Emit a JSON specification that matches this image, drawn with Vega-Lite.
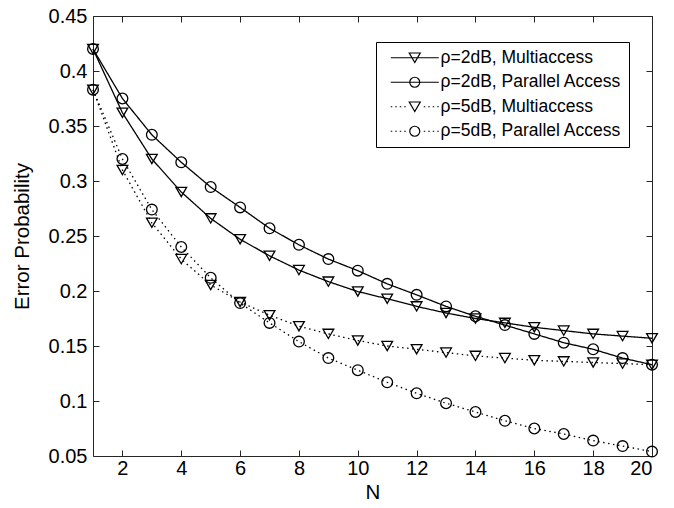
{
  "$schema": "https://vega.github.io/schema/vega-lite/v6.json",
  "width": 559,
  "height": 440,
  "autosize": {"type": "none"},
  "padding": {"left": 93, "top": 16, "right": 22, "bottom": 52},
  "background": "white",
  "config": {
    "view": {"stroke": null},
    "font": "Liberation Sans",
    "axis": {
      "labelFont": "Liberation Sans", "labelFontSize": 20, "labelColor": "black",
      "titleFont": "Liberation Sans", "titleFontSize": 20.5, "titleFontWeight": "normal", "titleColor": "black",
      "domainColor": "#262626", "tickColor": "#262626", "grid": false, "tickSize": -6
    }
  },
  "data": {"values": [
    {"s": "ρ=2dB, Multiaccess", "N": 1, "p": 0.420},
    {"s": "ρ=2dB, Multiaccess", "N": 2, "p": 0.362},
    {"s": "ρ=2dB, Multiaccess", "N": 3, "p": 0.320},
    {"s": "ρ=2dB, Multiaccess", "N": 4, "p": 0.290},
    {"s": "ρ=2dB, Multiaccess", "N": 5, "p": 0.266},
    {"s": "ρ=2dB, Multiaccess", "N": 6, "p": 0.247},
    {"s": "ρ=2dB, Multiaccess", "N": 7, "p": 0.232},
    {"s": "ρ=2dB, Multiaccess", "N": 8, "p": 0.219},
    {"s": "ρ=2dB, Multiaccess", "N": 9, "p": 0.2085},
    {"s": "ρ=2dB, Multiaccess", "N": 10, "p": 0.1995},
    {"s": "ρ=2dB, Multiaccess", "N": 11, "p": 0.193},
    {"s": "ρ=2dB, Multiaccess", "N": 12, "p": 0.186},
    {"s": "ρ=2dB, Multiaccess", "N": 13, "p": 0.180},
    {"s": "ρ=2dB, Multiaccess", "N": 14, "p": 0.175},
    {"s": "ρ=2dB, Multiaccess", "N": 15, "p": 0.171},
    {"s": "ρ=2dB, Multiaccess", "N": 16, "p": 0.167},
    {"s": "ρ=2dB, Multiaccess", "N": 17, "p": 0.164},
    {"s": "ρ=2dB, Multiaccess", "N": 18, "p": 0.161},
    {"s": "ρ=2dB, Multiaccess", "N": 19, "p": 0.159},
    {"s": "ρ=2dB, Multiaccess", "N": 20, "p": 0.157},
    {"s": "ρ=2dB, Parallel Access", "N": 1, "p": 0.420},
    {"s": "ρ=2dB, Parallel Access", "N": 2, "p": 0.375},
    {"s": "ρ=2dB, Parallel Access", "N": 3, "p": 0.342},
    {"s": "ρ=2dB, Parallel Access", "N": 4, "p": 0.317},
    {"s": "ρ=2dB, Parallel Access", "N": 5, "p": 0.2945},
    {"s": "ρ=2dB, Parallel Access", "N": 6, "p": 0.276},
    {"s": "ρ=2dB, Parallel Access", "N": 7, "p": 0.257},
    {"s": "ρ=2dB, Parallel Access", "N": 8, "p": 0.242},
    {"s": "ρ=2dB, Parallel Access", "N": 9, "p": 0.229},
    {"s": "ρ=2dB, Parallel Access", "N": 10, "p": 0.2185},
    {"s": "ρ=2dB, Parallel Access", "N": 11, "p": 0.2065},
    {"s": "ρ=2dB, Parallel Access", "N": 12, "p": 0.1965},
    {"s": "ρ=2dB, Parallel Access", "N": 13, "p": 0.186},
    {"s": "ρ=2dB, Parallel Access", "N": 14, "p": 0.177},
    {"s": "ρ=2dB, Parallel Access", "N": 15, "p": 0.169},
    {"s": "ρ=2dB, Parallel Access", "N": 16, "p": 0.161},
    {"s": "ρ=2dB, Parallel Access", "N": 17, "p": 0.153},
    {"s": "ρ=2dB, Parallel Access", "N": 18, "p": 0.147},
    {"s": "ρ=2dB, Parallel Access", "N": 19, "p": 0.139},
    {"s": "ρ=2dB, Parallel Access", "N": 20, "p": 0.133},
    {"s": "ρ=5dB, Multiaccess", "N": 1, "p": 0.383},
    {"s": "ρ=5dB, Multiaccess", "N": 2, "p": 0.310},
    {"s": "ρ=5dB, Multiaccess", "N": 3, "p": 0.262},
    {"s": "ρ=5dB, Multiaccess", "N": 4, "p": 0.229},
    {"s": "ρ=5dB, Multiaccess", "N": 5, "p": 0.2055},
    {"s": "ρ=5dB, Multiaccess", "N": 6, "p": 0.190},
    {"s": "ρ=5dB, Multiaccess", "N": 7, "p": 0.178},
    {"s": "ρ=5dB, Multiaccess", "N": 8, "p": 0.168},
    {"s": "ρ=5dB, Multiaccess", "N": 9, "p": 0.161},
    {"s": "ρ=5dB, Multiaccess", "N": 10, "p": 0.155},
    {"s": "ρ=5dB, Multiaccess", "N": 11, "p": 0.150},
    {"s": "ρ=5dB, Multiaccess", "N": 12, "p": 0.147},
    {"s": "ρ=5dB, Multiaccess", "N": 13, "p": 0.144},
    {"s": "ρ=5dB, Multiaccess", "N": 14, "p": 0.141},
    {"s": "ρ=5dB, Multiaccess", "N": 15, "p": 0.139},
    {"s": "ρ=5dB, Multiaccess", "N": 16, "p": 0.137},
    {"s": "ρ=5dB, Multiaccess", "N": 17, "p": 0.136},
    {"s": "ρ=5dB, Multiaccess", "N": 18, "p": 0.135},
    {"s": "ρ=5dB, Multiaccess", "N": 19, "p": 0.134},
    {"s": "ρ=5dB, Multiaccess", "N": 20, "p": 0.133},
    {"s": "ρ=5dB, Parallel Access", "N": 1, "p": 0.383},
    {"s": "ρ=5dB, Parallel Access", "N": 2, "p": 0.320},
    {"s": "ρ=5dB, Parallel Access", "N": 3, "p": 0.274},
    {"s": "ρ=5dB, Parallel Access", "N": 4, "p": 0.240},
    {"s": "ρ=5dB, Parallel Access", "N": 5, "p": 0.212},
    {"s": "ρ=5dB, Parallel Access", "N": 6, "p": 0.189},
    {"s": "ρ=5dB, Parallel Access", "N": 7, "p": 0.171},
    {"s": "ρ=5dB, Parallel Access", "N": 8, "p": 0.154},
    {"s": "ρ=5dB, Parallel Access", "N": 9, "p": 0.139},
    {"s": "ρ=5dB, Parallel Access", "N": 10, "p": 0.128},
    {"s": "ρ=5dB, Parallel Access", "N": 11, "p": 0.117},
    {"s": "ρ=5dB, Parallel Access", "N": 12, "p": 0.107},
    {"s": "ρ=5dB, Parallel Access", "N": 13, "p": 0.098},
    {"s": "ρ=5dB, Parallel Access", "N": 14, "p": 0.090},
    {"s": "ρ=5dB, Parallel Access", "N": 15, "p": 0.082},
    {"s": "ρ=5dB, Parallel Access", "N": 16, "p": 0.075},
    {"s": "ρ=5dB, Parallel Access", "N": 17, "p": 0.070},
    {"s": "ρ=5dB, Parallel Access", "N": 18, "p": 0.064},
    {"s": "ρ=5dB, Parallel Access", "N": 19, "p": 0.059},
    {"s": "ρ=5dB, Parallel Access", "N": 20, "p": 0.054}
  ]},
  "layer": [
    {
      "mark": {"type": "line", "color": "black", "strokeWidth": 1.3},
      "encoding": {
        "x": {"field": "N", "type": "quantitative", "scale": {"domain": [1, 20], "nice": false, "zero": false},
              "axis": {"orient": "bottom", "values": [2, 4, 6, 8, 10, 12, 14, 16, 18, 20], "title": "N", "titlePadding": 4, "labelPadding": 8}},
        "y": {"field": "p", "type": "quantitative", "scale": {"domain": [0.05, 0.45], "nice": false, "zero": false},
              "axis": {"orient": "left", "values": [0.05, 0.1, 0.15, 0.2, 0.25, 0.3, 0.35, 0.4, 0.45], "format": "~g", "title": "Error Probability", "titlePadding": 16, "labelPadding": 12}},
        "strokeDash": {"field": "s", "type": "nominal",
          "scale": {"domain": ["ρ=2dB, Multiaccess", "ρ=2dB, Parallel Access", "ρ=5dB, Multiaccess", "ρ=5dB, Parallel Access"],
                    "range": [[1, 0], [1, 0], [1.5, 3.5], [1.5, 3.5]]},
          "legend": null}
      }
    },
    {
      "mark": {"type": "point", "filled": false, "color": "black", "strokeWidth": 1.3, "size": 115, "opacity": 1},
      "encoding": {
        "x": {"field": "N", "type": "quantitative",
              "axis": {"orient": "top", "values": [2, 4, 6, 8, 10, 12, 14, 16, 18, 20], "labels": false, "title": null}},
        "y": {"field": "p", "type": "quantitative",
              "axis": {"orient": "right", "values": [0.05, 0.1, 0.15, 0.2, 0.25, 0.3, 0.35, 0.4, 0.45], "labels": false, "title": null}},
        "shape": {"field": "s", "type": "nominal",
          "scale": {"domain": ["ρ=2dB, Multiaccess", "ρ=2dB, Parallel Access", "ρ=5dB, Multiaccess", "ρ=5dB, Parallel Access"],
                    "range": ["triangle-down", "circle", "triangle-down", "circle"]},
          "legend": null}
      }
    },
    {
      "transform": [{"filter": "false"}],
      "mark": {"type": "point", "filled": false, "color": "black", "strokeWidth": 1.2, "opacity": 1},
      "encoding": {
        "shape": {"field": "s", "type": "nominal",
          "scale": {"domain": ["ρ=2dB, Multiaccess", "ρ=2dB, Parallel Access", "ρ=5dB, Multiaccess", "ρ=5dB, Parallel Access"],
                    "range": [
                      "M-4.8,0H4.8M0,0.95L-1.1,-0.95L1.1,-0.95Z",
                      "M-4.8,0H4.8M1,0A1,1,0,1,1,-1,0A1,1,0,1,1,1,0Z",
                      "M-4.8,0h0.3M-3.9,0h0.3M-3,0h0.3M-2.1,0h0.3M1.8,0h0.3M2.7,0h0.3M3.6,0h0.3M4.5,0h0.3M0,0.95L-1.1,-0.95L1.1,-0.95Z",
                      "M-4.8,0h0.3M-3.9,0h0.3M-3,0h0.3M-2.1,0h0.3M1.8,0h0.3M2.7,0h0.3M3.6,0h0.3M4.5,0h0.3M1,0A1,1,0,1,1,-1,0A1,1,0,1,1,1,0Z"
                    ]},
          "legend": {
            "orient": "none", "legendX": 283, "legendY": 26, "title": null,
            "padding": 7, "strokeColor": "black", "fillColor": "white",
            "labelFont": "Liberation Sans", "labelFontSize": 17.5, "labelColor": "black", "labelLimit": 400,
            "symbolSize": 100, "symbolStrokeWidth": 1.2, "symbolStrokeColor": "black", "symbolFillColor": "transparent",
            "symbolOffset": 23, "labelOffset": 17, "rowPadding": 5.5
          }}
      }
    }
  ],
  "resolve": {"scale": {"shape": "independent"}, "axis": {"x": "independent", "y": "independent"}}
}
